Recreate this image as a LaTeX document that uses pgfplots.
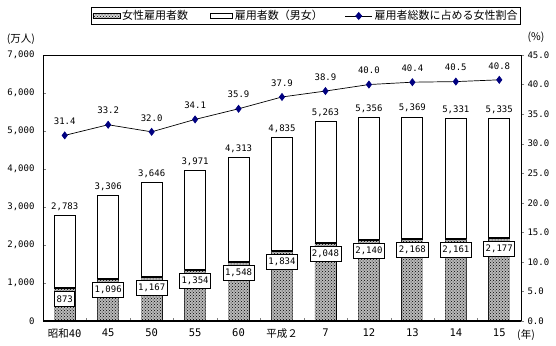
\documentclass[border=0pt]{standalone}
\usepackage{fontspec}
\setmainfont{Noto Sans CJK JP}
\newfontfamily\mono{DejaVu Sans Mono}
\usepackage{pgfplots}
\usepackage{pgfplotstable}
\pgfplotsset{compat=1.18}
\usetikzlibrary{patterns}
\definecolor{navy}{RGB}{0,0,128}

\pgfplotstableread{
x total female ratio
0 2783 873 31.4
1 3306 1096 33.2
2 3646 1167 32.0
3 3971 1354 34.1
4 4313 1548 35.9
5 4835 1834 37.9
6 5263 2048 38.9
7 5356 2140 40.0
8 5369 2168 40.4
9 5331 2161 40.5
10 5335 2177 40.8
}\datatable

\begin{document}
\begin{tikzpicture}[font=\fontsize{10}{12}\selectfont]
\begin{axis}[
  at={(0pt,0pt)}, anchor=south west,
  scale only axis, width=478pt, height=266pt,
  clip=false,
  xmin=-0.5, xmax=10.5, ymin=0, ymax=7000,
  ytick={0,1000,...,7000}, ytick pos=left, tick align=inside,
  major tick length=3pt, minor tick length=3pt,
  /pgf/number format/1000 sep={,},
  /pgf/number format/assume math mode=true,
  yticklabel style={font=\mono\fontsize{9}{10}\selectfont, xshift=-5pt},
  xtick={0,...,10},
  xticklabels={昭和{\mono 40},{\mono 45},{\mono 50},{\mono 55},{\mono 60},平成２,{\mono 7},{\mono 12},{\mono 13},{\mono 14},{\mono 15}},
  xtick pos=bottom,
  major x tick style={draw=none},
  minor xtick={0.5,1.5,...,9.5},
  xticklabel style={yshift=-4pt, font=\fontsize{10.5}{12}\selectfont},
  axis line style={line width=0.8pt},
]
\addplot[ybar, bar width=21pt, bar shift=0pt, fill=white, draw=black, line width=0.8pt,
  nodes near coords={\pgfmathprintnumber{\pgfplotspointmeta}},
  every node near coord/.append style={font=\mono\fontsize{9}{10}\selectfont, black, yshift=1pt}]
  table[x=x,y=total]{\datatable};
\addplot[ybar, bar width=21pt, bar shift=0pt, draw=none, fill=gray!55,
  postaction={pattern=crosshatch dots, pattern color=black}]
  table[x=x,y=female]{\datatable};
\addplot[only marks, mark=-, mark size=10.5pt, mark options={line width=2pt, black}]
  table[x=x,y=female]{\datatable};
\addplot[draw=none, mark=none,
  nodes near coords={\pgfmathprintnumber{\pgfplotspointmeta}},
  every node near coord/.append style={font=\mono\fontsize{9}{10}\selectfont, black, anchor=north, yshift=-3pt,
    draw=black, line width=0.8pt, fill=white, inner xsep=2pt, inner ysep=0pt, minimum height=15pt}]
  table[x=x,y=female]{\datatable};
\draw[line width=1.6pt] (rel axis cs:0,0) -- (rel axis cs:1,0);
\node[font=\fontsize{10.5}{12}\selectfont] at ([shift={(-22pt,16pt)}]rel axis cs:0,1) {(万人)};
\node[font=\fontsize{10.5}{12}\selectfont] at ([shift={(15pt,18pt)}]rel axis cs:1,1) {(\%)};
\node[font=\fontsize{10.5}{12}\selectfont] at ([shift={(5pt,-14pt)}]rel axis cs:1,0) {(年)};
\end{axis}
\begin{axis}[
  at={(0pt,0pt)}, anchor=south west,
  scale only axis, width=478pt, height=266pt,
  xmin=-0.5, xmax=10.5, ymin=0, ymax=45,
  hide x axis, axis y line*=right,
  ytick={0,5,...,45}, tick align=outside, major tick length=3pt,
  axis line style={line width=0.8pt},
  /pgf/number format/assume math mode=true,
  yticklabel style={font=\mono\fontsize{9}{10}\selectfont, /pgf/number format/.cd, fixed, fixed zerofill, precision=1},
  legend style={at={(rel axis cs:1,1.18)}, anchor=north east, draw=black, line width=0.8pt,
    font=\fontsize{11}{12}\selectfont, inner sep=1pt,
    /tikz/every even column/.append style={column sep=20pt}},
  legend columns=3,
  legend cell align=left,
]
\addlegendimage{legend image code/.code={\draw[fill=gray!35, postaction={pattern=crosshatch dots, pattern color=black}, line width=0.5pt] (0pt,-2.5pt) rectangle (27pt,2.5pt);}}
\addlegendentry{女性雇用者数}
\addlegendimage{legend image code/.code={\draw[fill=white, line width=0.8pt] (0pt,-2.5pt) rectangle (22pt,2.5pt);}}
\addlegendentry{雇用者数（男女）}
\addplot[black, line width=0.7pt, mark=diamond*, mark size=3.5pt, mark options={fill=navy, draw=navy},
  nodes near coords={\pgfmathprintnumber[fixed, fixed zerofill, precision=1]{\pgfplotspointmeta}},
  every node near coord/.append style={font=\mono\fontsize{9}{10}\selectfont, black, yshift=7pt},
  legend image code/.code={\draw[black, line width=0.7pt] (0pt,0pt) -- (27pt,0pt);
    \fill[navy] (13.5pt,3.5pt) -- (16.5pt,0pt) -- (13.5pt,-3.5pt) -- (10.5pt,0pt) -- cycle;}]
  table[x=x,y=ratio]{\datatable};
\addlegendentry{雇用者総数に占める女性割合}
\end{axis}
\pgfresetboundingbox
\path[use as bounding box] (-43pt,-24pt) rectangle (513pt,321pt);
\end{tikzpicture}
\end{document}
